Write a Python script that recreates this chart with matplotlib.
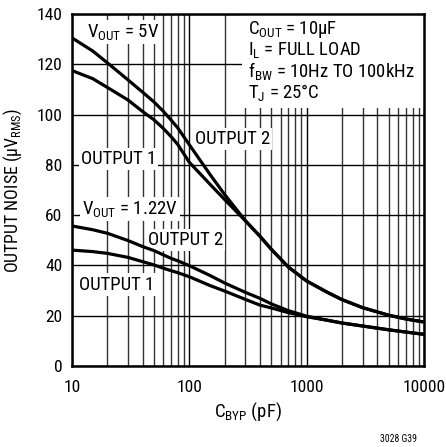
import numpy as np
import matplotlib
matplotlib.use("Agg")
import matplotlib.pyplot as plt
from matplotlib import font_manager
from matplotlib.patches import Rectangle

# pick a narrow sans if available
installed = {f.name for f in font_manager.fontManager.ttflist}
family = "DejaVu Sans"
for name in ["Liberation Sans Narrow", "Roboto Condensed", "Liberation Sans"]:
    if name in installed:
        family = name
        break
plt.rcParams["font.family"] = [family, "DejaVu Sans"]

# ------------------------------------------------------------------
# Data (C_BYP in pF, noise in uV RMS)
# ------------------------------------------------------------------
c_byp = [10, 15, 20, 30, 40, 50, 60, 70, 80, 100, 150, 200, 300, 400, 500,
         700, 1000, 1500, 2000, 3000, 5000, 7000, 10000]

v5_out2 = [130.5, 125.3, 120.6, 113.8, 108.9, 105.0, 101.3, 97.8, 94.6, 88.0,
           76.2, 68.2, 57.8, 51.6, 46.4, 39.3, 33.8, 29.3, 26.4, 23.2,
           20.2, 18.7, 17.5]
v5_out1 = [117.5, 114.3, 110.8, 105.8, 101.2, 97.9, 94.5, 91.2, 88.0, 81.0,
           72.3, 66.2, 57.8, 51.6, 46.4, 39.3, 33.8, 29.3, 26.4, 23.2,
           20.2, 18.7, 17.5]
v122_out2 = [55.7, 54.2, 52.8, 49.9, 47.5, 45.9, 44.2, 42.8, 41.8, 39.9,
             36.0, 33.0, 29.3, 26.9, 24.7, 22.0, 19.8, 18.2, 17.1, 15.9,
             14.4, 13.5, 12.6]
v122_out1 = [46.1, 45.5, 44.8, 43.2, 41.5, 40.2, 38.9, 37.9, 37.1, 35.5,
             32.0, 29.8, 26.5, 24.2, 23.1, 21.2, 19.6, 18.2, 17.1, 15.9,
             14.4, 13.5, 12.6]

y_ticks = [0, 20, 40, 60, 80, 100, 120, 140]
x_ticks = [10, 100, 1000, 10000]

fig = plt.figure(figsize=(4.46, 4.47), dpi=100)
ax = fig.add_axes([0.1614, 0.1812, 0.7893, 0.7875])

ax.set_xscale("log")
ax.set_xlim(10, 10000)
ax.set_ylim(0, 140)
ax.set_yticks(y_ticks)
ax.set_xticks(x_ticks)
ax.set_xticklabels([str(t) for t in x_ticks])
ax.xaxis.set_minor_formatter(matplotlib.ticker.NullFormatter())
ax.tick_params(which="both", length=0, labelsize=12.6)
ax.tick_params(axis="x", pad=10)
ax.tick_params(axis="y", pad=7)

ax.grid(True, which="major", color="black", linewidth=1.0, zorder=1)
ax.grid(True, which="minor", axis="x", color="#333333", linewidth=1.0, zorder=1)
for s in ax.spines.values():
    s.set_linewidth(1.8)
    s.set_zorder(6)

for ys in (v5_out2, v5_out1, v122_out2, v122_out1):
    ax.plot(c_byp, ys, color="black", linewidth=2.3, zorder=4,
            solid_capstyle="butt", solid_joinstyle="round")

box = dict(facecolor="white", edgecolor="none", pad=1.5)
lab = dict(fontsize=13.5, zorder=3, bbox=box, va="center", ha="left")
ax.text(0.043, 0.950, r"V$\mathregular{_{OUT}}$ = 5V", transform=ax.transAxes, **lab)
ax.text(0.349, 0.646, "OUTPUT 2", transform=ax.transAxes, **lab)
ax.text(0.026, 0.587, "OUTPUT 1", transform=ax.transAxes, **lab)
ax.text(0.028, 0.446, r"V$\mathregular{_{OUT}}$ = 1.22V", transform=ax.transAxes, **lab)
ax.text(0.216, 0.358, "OUTPUT 2", transform=ax.transAxes, **lab)
ax.text(0.020, 0.2315, "OUTPUT 1", transform=ax.transAxes, **lab)

# conditions block
ax.add_patch(Rectangle((0.483, 0.733), 0.517, 0.267, transform=ax.transAxes,
                       facecolor="white", edgecolor="none", zorder=2))
cond = [r"C$\mathregular{_{OUT}}$ = 10µF",
        r"I$\mathregular{_{L}}$ = FULL LOAD",
        r"f$\mathregular{_{BW}}$ = 10Hz TO 100kHz",
        r"T$\mathregular{_{J}}$ = 25°C"]
for i, line in enumerate(cond):
    ax.text(0.500, 0.957 - i * 0.0597, line, transform=ax.transAxes,
            fontsize=13.5, va="center", ha="left", zorder=3)

ax.set_xlabel(r"C$\mathregular{_{BYP}}$ (pF)", fontsize=13.5, va="top")
ax.xaxis.set_label_coords(0.5, -0.0966)
ax.set_ylabel(r"OUTPUT NOISE (µV$\mathregular{_{RMS}}$)", fontsize=12.8)
ax.yaxis.set_label_coords(-0.136, 0.5)

fig.text(0.935, 0.007, "3028 G39", fontsize=7, ha="right", va="bottom")

fig.savefig("out.png", dpi=100)
